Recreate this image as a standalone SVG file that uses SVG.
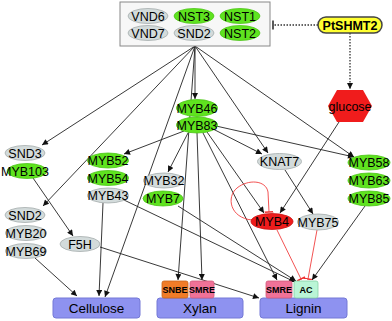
<svg xmlns="http://www.w3.org/2000/svg" width="392" height="321" viewBox="0 0 392 321">
<defs>
<marker id="ar" viewBox="0 0 10 10" refX="10" refY="5" markerWidth="7" markerHeight="6" markerUnits="userSpaceOnUse" orient="auto"><path d="M0,0 L10,5 L0,10 z" fill="#111"/></marker>
<marker id="tb" viewBox="0 0 4 12" refX="3" refY="6" markerWidth="3" markerHeight="9" markerUnits="userSpaceOnUse" orient="auto"><path d="M3,0 L3,12" stroke="#ee3333" stroke-width="2"/></marker>
<marker id="tk" viewBox="0 0 4 12" refX="3" refY="6" markerWidth="3" markerHeight="10" markerUnits="userSpaceOnUse" orient="auto"><path d="M3,0 L3,12" stroke="#222" stroke-width="2"/></marker>
<style>
text{font-family:"Liberation Sans",Arial,sans-serif;font-size:12.5px;fill:#000;text-anchor:middle}
.g{fill:#d3dbdb;stroke:#a4acac;stroke-width:0.8}
.v{fill:#5fe31f;stroke:#4cc418;stroke-width:0.8}
.r{fill:#ee1c1c;stroke:#c81010;stroke-width:0.8}
.bx{fill:#8e92f0;stroke:#7479d6;stroke-width:1}
.lb{font-size:13.5px}
.sm{font-size:9px;font-weight:bold}
.e{fill:none;stroke:#222;stroke-width:0.9;marker-end:url(#ar)}
.re{fill:none;stroke:#f04040;stroke-width:0.9;marker-end:url(#tb)}
.d{fill:none;stroke:#333;stroke-width:1.3;stroke-dasharray:1.5,1.5}
</style>
</defs>
<g id="connectors">
<path class="e" d="M195,46 L42,145"/>
<path class="e" d="M195,46 L43,206"/>
<path class="e" d="M195,46 L195,99"/>
<path class="e" d="M195,46 L105,297"/>
<path class="e" d="M195,46 L178,280"/>
<path class="e" d="M195,46 L268,153"/>
<path class="e" d="M195,46 L354,157"/>
<path class="e" d="M184,131 L124,154"/>
<path class="e" d="M188,133 L168,172"/>
<path class="e" d="M197,133 L202,280"/>
<path class="e" d="M203,133 L277,280"/>
<path class="e" d="M207,132 L264,213"/>
<path class="e" d="M213,129 L262,154"/>
<path class="e" d="M216,126 L354,157"/>
<path class="e" d="M339,122 L280,213"/>
<path class="e" d="M285,170 L313,214"/>
<path class="e" d="M33,178 L73,236"/>
<path class="e" d="M35,258 L77,296"/>
<path class="e" d="M103,203 L99,296"/>
<path class="e" d="M124,200 L295,282"/>
<path class="e" d="M178,206 L296,281"/>
<path class="e" d="M100,247 L259,298"/>
<path class="e" d="M365,206 L312,280"/>
<path class="re" d="M277,230 L301,279"/>
<path class="re" d="M317,230 L308,279"/>
<path class="re" d="M252,220 C230,218 226,197 237,188 C248,179 266,180 268,192 L269,212"/>
<path class="d" d="M318,25 L273,25" marker-end="url(#tk)"/>
<path class="d" d="M350,33 L350,89" marker-end="url(#ar)"/>
</g>
<g id="nac-box">
<rect x="120" y="2" width="150" height="44" fill="#f7f7f7" stroke="#888" stroke-width="1"/>
<ellipse class="g" cx="148" cy="16" rx="20" ry="7.5"/><text x="148" y="20.5">VND6</text>
<ellipse class="v" cx="194" cy="16" rx="20" ry="7.5"/><text x="194" y="20.5">NST3</text>
<ellipse class="v" cx="240" cy="16" rx="20" ry="7.5"/><text x="240" y="20.5">NST1</text>
<ellipse class="g" cx="148" cy="33" rx="20" ry="7.5"/><text x="148" y="37.5">VND7</text>
<ellipse class="g" cx="194" cy="33" rx="20" ry="7.5"/><text x="194" y="37.5">SND2</text>
<ellipse class="v" cx="240" cy="33" rx="20" ry="7.5"/><text x="240" y="37.5">NST2</text>
</g>
<g id="PtSHMT2">
<rect x="318" y="17" width="64" height="16" rx="8" fill="#ffff30" stroke="#444" stroke-width="1.5"/>
<text x="350" y="29.5" style="font-weight:bold;font-size:12.5px">PtSHMT2</text>
</g>
<g id="glucose">
<polygon points="337,90 363,90 372,106 363,122 337,122 328,106" fill="#f01c1c"/>
<text x="350" y="110.5">glucose</text>
</g>
<g id="MYB46-83">
<ellipse class="v" cx="197" cy="108" rx="20.5" ry="8.5"/><text x="197" y="112.5">MYB46</text>
<ellipse class="v" cx="197" cy="125" rx="20.5" ry="8"/><text x="197" y="129.5">MYB83</text>
</g>
<g id="SND3-MYB103">
<ellipse class="g" cx="25" cy="153" rx="20" ry="7.5"/><text x="25" y="157.5">SND3</text>
<ellipse class="v" cx="27" cy="171" rx="20" ry="7.5"/><text x="25" y="175.5">MYB103</text>
</g>
<g id="SND2-MYB20-MYB69">
<ellipse class="g" cx="25" cy="215" rx="20" ry="7.5"/><text x="25" y="219.5">SND2</text>
<ellipse class="g" cx="26" cy="233" rx="20.5" ry="7.5"/><text x="26" y="237.5">MYB20</text>
<ellipse class="g" cx="26" cy="251" rx="20.5" ry="7.5"/><text x="26" y="255.5">MYB69</text>
</g>
<g id="F5H">
<ellipse class="g" cx="80" cy="244" rx="20" ry="7.5"/><text x="80" y="248.5">F5H</text>
</g>
<g id="MYB52-54-43">
<ellipse class="v" cx="108" cy="160.5" rx="20.5" ry="7.5"/><text x="108" y="165">MYB52</text>
<ellipse class="v" cx="108" cy="178" rx="20.5" ry="7.5"/><text x="108" y="182.5">MYB54</text>
<ellipse class="g" cx="108" cy="195.5" rx="20.5" ry="7.5"/><text x="108" y="200">MYB43</text>
</g>
<g id="MYB32-7">
<ellipse class="g" cx="164" cy="180.5" rx="20.5" ry="7.5"/><text x="164" y="185">MYB32</text>
<ellipse class="v" cx="163" cy="198.5" rx="20" ry="7.5"/><text x="163" y="203">MYB7</text>
</g>
<g id="KNAT7">
<ellipse class="g" cx="279.5" cy="161.5" rx="22" ry="8"/><text x="279.5" y="166">KNAT7</text>
</g>
<g id="MYB58-63-85">
<ellipse class="v" cx="369" cy="162.5" rx="21" ry="7.5"/><text x="369" y="167">MYB58</text>
<ellipse class="v" cx="369" cy="180.5" rx="21" ry="7.5"/><text x="369" y="185">MYB63</text>
<ellipse class="v" cx="369" cy="198.5" rx="21" ry="7.5"/><text x="369" y="203">MYB85</text>
</g>
<g id="MYB4">
<ellipse class="r" cx="272" cy="221.5" rx="21" ry="8"/><text x="272" y="226">MYB4</text>
</g>
<g id="MYB75">
<ellipse class="g" cx="318" cy="222" rx="20.5" ry="8"/><text x="318" y="226.5">MYB75</text>
</g>
<g id="Cellulose">
<rect class="bx" x="53" y="298" width="87" height="20" rx="3"/><text class="lb" x="96.5" y="313">Cellulose</text>
</g>
<g id="Xylan">
<rect class="bx" x="157" y="298" width="86" height="20" rx="3"/><text class="lb" x="200" y="313">Xylan</text>
<rect x="162" y="281" width="26" height="17" rx="2" fill="#f07c28" stroke="#c8641c" stroke-width="0.8"/><text class="sm" x="175" y="293">SNBE</text>
<rect x="190" y="281" width="24" height="17" rx="2" fill="#f07298" stroke="#d05a7c" stroke-width="0.8"/><text class="sm" x="202" y="293">SMRE</text>
</g>
<g id="Lignin">
<rect class="bx" x="260" y="298" width="87" height="20" rx="3"/><text class="lb" x="303.5" y="313">Lignin</text>
<rect x="266" y="281" width="26" height="17" rx="2" fill="#f07298" stroke="#d05a7c" stroke-width="0.8"/><text class="sm" x="279" y="293">SMRE</text>
<rect x="294" y="281" width="24" height="17" rx="2" fill="#baf5d6" stroke="#86d0a4" stroke-width="0.8"/><text class="sm" x="306" y="293">AC</text>
</g>
</svg>
